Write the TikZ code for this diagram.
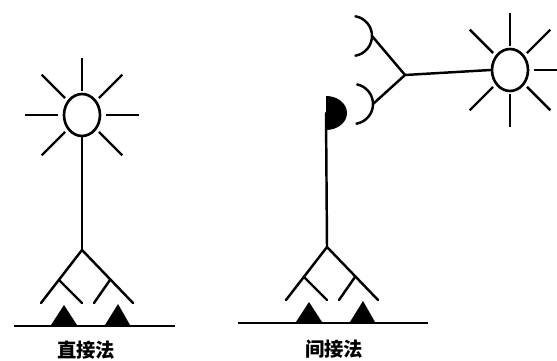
\documentclass[tikz,border=0pt]{standalone}
\usepackage{fontspec}
\newfontfamily\cjk{Noto Sans CJK SC}
\usetikzlibrary{shapes.geometric}

\begin{document}
\begin{tikzpicture}[x=0.02cm, y=-0.02cm,
  nerve/.style={line width=1.4pt, line cap=round},
  soma/.style={ellipse, draw, line width=1.5pt, minimum width=0.72cm,
               minimum height=0.84cm, inner sep=0pt},
  ray/.style={line width=1.4pt},
  ground/.style={line width=1.6pt},
  caption/.style={font=\cjk\bfseries\fontsize{11}{12}\selectfont, inner sep=0pt},
]
\useasboundingbox (0,0) rectangle (557,361);

% ---- direct: cell body with rays ----
\node[soma] (somaL) at (82,115) {};
\foreach \a in {0,45,90,135,180,225,315}
  \draw[ray] (somaL.center) ++(\a:0.48cm) -- ++(\a:0.66cm);
\coordinate (forkL) at (82,250);
\draw[nerve] (somaL.south) -- (forkL);

% ---- indirect: cell body, Y joint and cups ----
\node[soma] (somaR) at (510,70) {};
\foreach \a in {0,45,90,135,225,270,315}
  \draw[ray] (somaR.center) ++(\a:0.48cm) -- ++(\a:0.66cm);
\coordinate (joint) at (405,75);
\coordinate (tipA) at (372,36);
\coordinate (tipB) at (373,104);
\draw[nerve] (joint) -- (somaR.west);
\draw[nerve] (joint) -- (tipA) arc[start angle=0, end angle=80, radius=0.4cm]
             (tipA) arc[start angle=0, end angle=-80, radius=0.4cm];
\draw[nerve] (joint) -- (tipB) arc[start angle=0, end angle=78, radius=0.4cm]
             (tipB) arc[start angle=0, end angle=-80, radius=0.4cm];

% terminal knob
\coordinate (knob) at (326,113);
\coordinate (forkR) at (327,247);
\fill (knob) ++(0,-17) arc[start angle=90, end angle=-90,
                           x radius=0.42cm, y radius=0.34cm] -- cycle;
\draw[nerve] (knob) -- (forkR);

% ---- dendrite trees and receptor mounds ----
\foreach \f in {forkL,forkR} {
  \draw[nerve] (\f) -- ++(-41,53);
  \draw[nerve] (\f) -- ++(51,53);
  \draw[nerve] (\f) ++(-23,30) -- ++(23,23);
  \draw[nerve] (\f) ++(28,30) -- ++(-16,23);
  \fill (\f) ++(-18,55) -- ++(-13,20) -- ++(26,0) -- cycle;
  \fill (\f) ++(36,54) -- ++(-13,21) -- ++(25,0) -- cycle;
}

% ground lines
\coordinate (gL1) at (14,326);
\coordinate (gL2) at (175,326);
\coordinate (gR1) at (238,323);
\coordinate (gR2) at (428,323);
\draw[ground] (gL1) -- (gL2);
\draw[ground] (gR1) -- (gR2);

% ---- captions ----
\node[caption] (capL) at (86,350) {直接法};
\node[caption] (capR) at (334,349) {间接法};

\end{tikzpicture}
\end{document}
